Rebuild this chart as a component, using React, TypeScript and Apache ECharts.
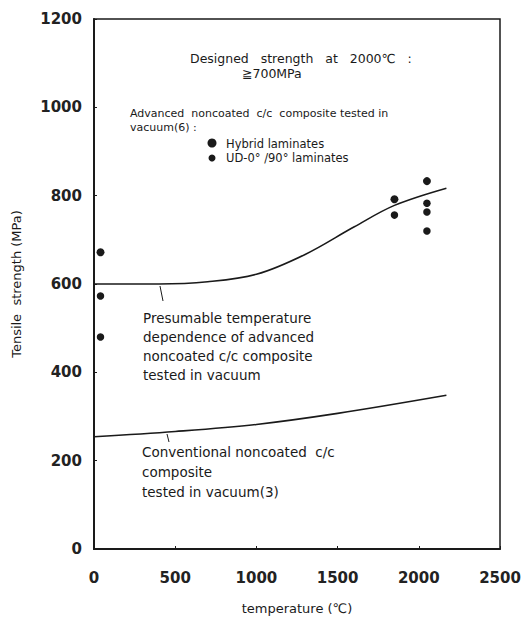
import React, { useEffect, useRef } from "react";
import * as echarts from "echarts";

const tempTicks = [0, 500, 1000, 1500, 2000, 2500];
const strengthTicks = [0, 200, 400, 600, 800, 1000, 1200];

const hybridPoints = [
  [40, 672],
  [1850, 792],
  [2050, 833],
];
const udPoints = [
  [40, 573],
  [40, 480],
  [1850, 756],
  [2050, 783],
  [2050, 763],
  [2050, 720],
];
const presumableCurve = [
  [0, 600],
  [400, 600],
  [700, 605],
  [1000, 622],
  [1300, 667],
  [1600, 729],
  [1850, 778],
  [2170, 817],
];
const conventionalCurve = [
  [0, 254],
  [500, 266],
  [1000, 282],
  [1500, 307],
  [2170, 348],
];

const FONT = "DejaVu Sans";
const INK = "#1a1a1a";

export default function App() {
  const ref = useRef<HTMLDivElement>(null);
  useEffect(() => {
    if (!ref.current) return;
    const chart = echarts.init(ref.current, null, { renderer: "svg", width: 531, height: 620 });
    const txt = (x: number, y: number, text: string, size: number, extra: any = {}) => ({
      type: "text",
      x,
      y,
      style: {
        text,
        fontFamily: FONT,
        fontSize: size,
        fill: INK,
        textVerticalAlign: "middle",
        ...extra,
      },
    });
    chart.setOption({
      animation: false,
      backgroundColor: "#fff",
      grid: {
        left: 94,
        top: 19,
        width: 406,
        height: 530,
        outerBoundsMode: "none",
        containLabel: false,
        show: true,
        borderColor: INK,
        borderWidth: 1.5,
        backgroundColor: "transparent",
      },
      xAxis: {
        type: "value",
        min: tempTicks[0],
        max: tempTicks[tempTicks.length - 1],
        interval: 500,
        name: "temperature (℃)",
        nameLocation: "middle",
        nameGap: 53,
        nameTextStyle: { fontFamily: FONT, fontSize: 13, color: INK },
        axisLine: { show: true, lineStyle: { color: INK, width: 2 } },
        axisTick: { show: true, inside: true, length: 3, lineStyle: { color: INK } },
        axisLabel: {
          fontFamily: FONT,
          fontSize: 15,
          fontWeight: "bold",
          color: "#222",
          margin: 21,
          formatter: (v: number) => (tempTicks.includes(v) ? String(v) : ""),
        },
        splitLine: { show: false },
      },
      yAxis: {
        type: "value",
        min: strengthTicks[0],
        max: strengthTicks[strengthTicks.length - 1],
        interval: 200,
        name: "Tensile  strength (MPa)",
        nameLocation: "middle",
        nameGap: 71,
        nameRotate: 90,
        nameTextStyle: { fontFamily: FONT, fontSize: 13, color: INK },
        axisLine: { show: true, lineStyle: { color: INK, width: 2 } },
        axisTick: { show: true, inside: true, length: 3, lineStyle: { color: INK } },
        axisLabel: {
          fontFamily: FONT,
          fontSize: 15,
          fontWeight: "bold",
          color: "#222",
          margin: 12,
          formatter: (v: number) => (strengthTicks.includes(v) ? String(v) : ""),
        },
        splitLine: { show: false },
      },
      series: [
        {
          name: "Presumable",
          type: "line",
          data: presumableCurve,
          smooth: 0.35,
          showSymbol: false,
          lineStyle: { color: INK, width: 1.6 },
        },
        {
          name: "Conventional",
          type: "line",
          data: conventionalCurve,
          smooth: 0.35,
          showSymbol: false,
          lineStyle: { color: INK, width: 1.6 },
        },
        {
          name: "Hybrid laminates",
          type: "scatter",
          data: hybridPoints,
          symbol: "circle",
          symbolSize: 8,
          itemStyle: { color: INK, opacity: 1 },
        },
        {
          name: "UD-0°/90° laminates",
          type: "scatter",
          data: udPoints,
          symbol: "circle",
          symbolSize: 7.5,
          itemStyle: { color: INK, opacity: 1 },
        },
      ],
      graphic: [
        txt(190, 58, "Designed   strength   at   2000℃   :", 12.5),
        txt(242, 73, "≧700MPa", 12.5),
        txt(130, 113, "Advanced  noncoated  c/c  composite tested in", 11),
        txt(130, 127, "vacuum(6) :", 11),
        { type: "circle", shape: { cx: 212, cy: 143, r: 4.5 }, style: { fill: INK } },
        { type: "circle", shape: { cx: 212, cy: 158, r: 3.5 }, style: { fill: INK } },
        txt(226, 144, "Hybrid laminates", 11.5),
        txt(226, 158, "UD-0° /90° laminates", 11.5),
        { type: "line", shape: { x1: 160, y1: 286, x2: 163, y2: 301 }, style: { stroke: INK, lineWidth: 1 } },
        txt(143, 318, "Presumable temperature", 13.5),
        txt(143, 337, "dependence of advanced", 13.5),
        txt(143, 356, "noncoated c/c composite", 13.5),
        txt(143, 375, "tested in vacuum", 13.5),
        { type: "line", shape: { x1: 167, y1: 434, x2: 169, y2: 442 }, style: { stroke: INK, lineWidth: 1 } },
        txt(142, 452, "Conventional noncoated  c/c", 13.5),
        txt(142, 472, "composite", 13.5),
        txt(142, 492, "tested in vacuum(3)", 13.5),
      ],
    });
    return () => chart.dispose();
  }, []);
  return (
    <div
      ref={ref}
      style={{ position: "fixed", left: 0, top: 0, width: 531, height: 620, background: "#fff" }}
    />
  );
}
